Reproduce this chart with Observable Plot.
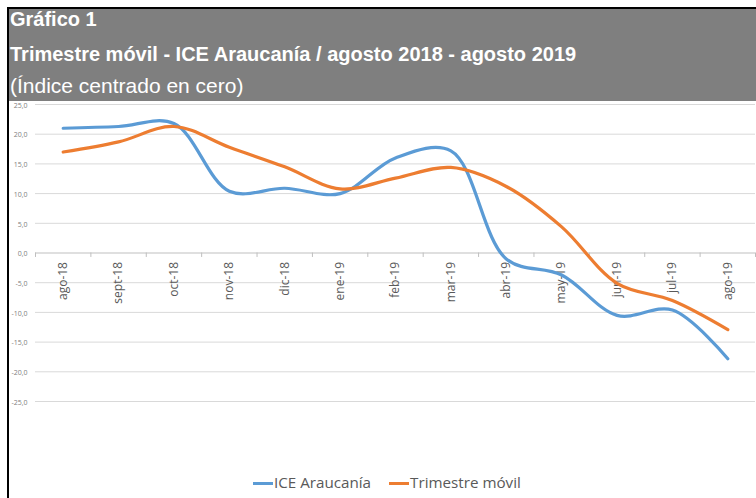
<!DOCTYPE html>
<html>
<head>
<meta charset="utf-8">
<script src="https://cdn.jsdelivr.net/npm/d3@7"></script>
<script src="https://cdn.jsdelivr.net/npm/@observablehq/plot@0.6"></script>
<style>
  html, body { margin: 0; padding: 0; background: #fff; width: 756px; height: 498px; overflow: hidden; }
  #frame { position: absolute; left: 7px; top: 7px; width: 749px; height: 491px; border-left: 2px solid #000; border-top: 2px solid #000; }
  #header { position: absolute; left: 9px; top: 9px; width: 747px; height: 92px; background: #7f7f7f; color: #fff; font-family: "Liberation Sans", Arial, sans-serif; }
  #header div { position: absolute; left: 1px; white-space: nowrap; }
  #t1 { top: 0px; font-size: 20px; line-height: 20px; font-weight: bold; }
  #t2 { top: 35px; font-size: 20px; line-height: 20px; font-weight: bold; }
  #t3 { top: 66px; font-size: 21px; line-height: 21px; }
  #chart { position: absolute; left: 0; top: 100px; }
  #legend { position: absolute; top: 472px; left: 253px; font-family: "Open Sans", sans-serif; font-size: 15.2px; line-height: 20px; color: #595959; white-space: nowrap; }
  .item { display: inline-block; margin-right: 18px; }
  .sw { display: inline-block; width: 20px; height: 3px; vertical-align: middle; margin-right: 1px; }
</style>
</head>
<body>
<div id="frame"></div>
<div id="header">
  <div id="t1">Gráfico 1</div>
  <div id="t2">Trimestre móvil - ICE Araucanía / agosto 2018 - agosto 2019</div>
  <div id="t3">(Índice centrado en cero)</div>
</div>
<div id="chart"></div>
<div id="legend"></div>
<script>
const months = ["ago-18","sept-18","oct-18","nov-18","dic-18","ene-19","feb-19","mar-19","abr-19","may-19","jun-19","jul-19","ago-19"];
const ice = [21.0, 21.3, 21.8, 10.4, 10.9, 10.0, 16.0, 17.2, -1.0, -3.7, -10.5, -9.6, -17.8];
const trimestre = [17.0, 18.7, 21.3, 17.8, 14.5, 10.8, 12.6, 14.4, 11.2, 4.4, -5.1, -8.0, -12.9];
const yTicks = [25, 20, 15, 10, 5, 0, -5, -10, -15, -20, -25];
const seriesNames = ["ICE Araucanía", "Trimestre móvil"];
const seriesColors = ["#5b9bd5", "#ed7d31"];

const rows = [];
months.forEach((m, i) => {
  rows.push({i, month: m, value: ice[i], serie: seriesNames[0]});
  rows.push({i, month: m, value: trimestre[i], serie: seriesNames[1]});
});
const bounds = d3.range(months.length + 1).map(i => i - 0.5);
const fmt = d => d.toFixed(1).replace(".", ",");

const chart = Plot.plot({
  width: 756,
  height: 364,
  marginTop: 4,
  marginBottom: 63,
  marginLeft: 35,
  marginRight: 1,
  x: {type: "linear", domain: [-0.5, months.length - 0.5], axis: null, label: null},
  y: {domain: [-25, 25], axis: null, label: null},
  color: {domain: seriesNames, range: seriesColors},
  style: {fontFamily: "Open Sans, sans-serif", background: "transparent"},
  marks: [
    Plot.ruleY(yTicks.filter(d => d !== 0), {stroke: "#d9d9d9", strokeWidth: 1}),
    Plot.axisY(yTicks, {tickSize: 0, tickPadding: 8, tickFormat: fmt, fontSize: 7, dy: 1, label: null, fill: "#808080", fontFamily: "Open Sans, sans-serif"}),
    Plot.ruleY([0], {stroke: "#bfbfbf", strokeWidth: 1}),
    Plot.ruleX(bounds, {y1: 0, y2: -0.75, stroke: "#bfbfbf"}),
    Plot.text(months, {x: (d, i) => i, y: 0, text: d => d, rotate: -90, textAnchor: "end", dy: 9, fontSize: 12, fill: "#595959"}),
    Plot.line(rows, {x: "i", y: "value", z: "serie", stroke: "serie", strokeWidth: 3.2, curve: "catmull-rom", strokeLinecap: "round"})
  ]
});
document.getElementById("chart").appendChild(chart);

const legend = document.getElementById("legend");
seriesNames.forEach((n, k) => {
  const it = document.createElement("span");
  it.className = "item";
  const sw = document.createElement("span");
  sw.className = "sw";
  sw.style.background = seriesColors[k];
  it.appendChild(sw);
  it.appendChild(document.createTextNode(n));
  legend.appendChild(it);
});
</script>
</body>
</html>
